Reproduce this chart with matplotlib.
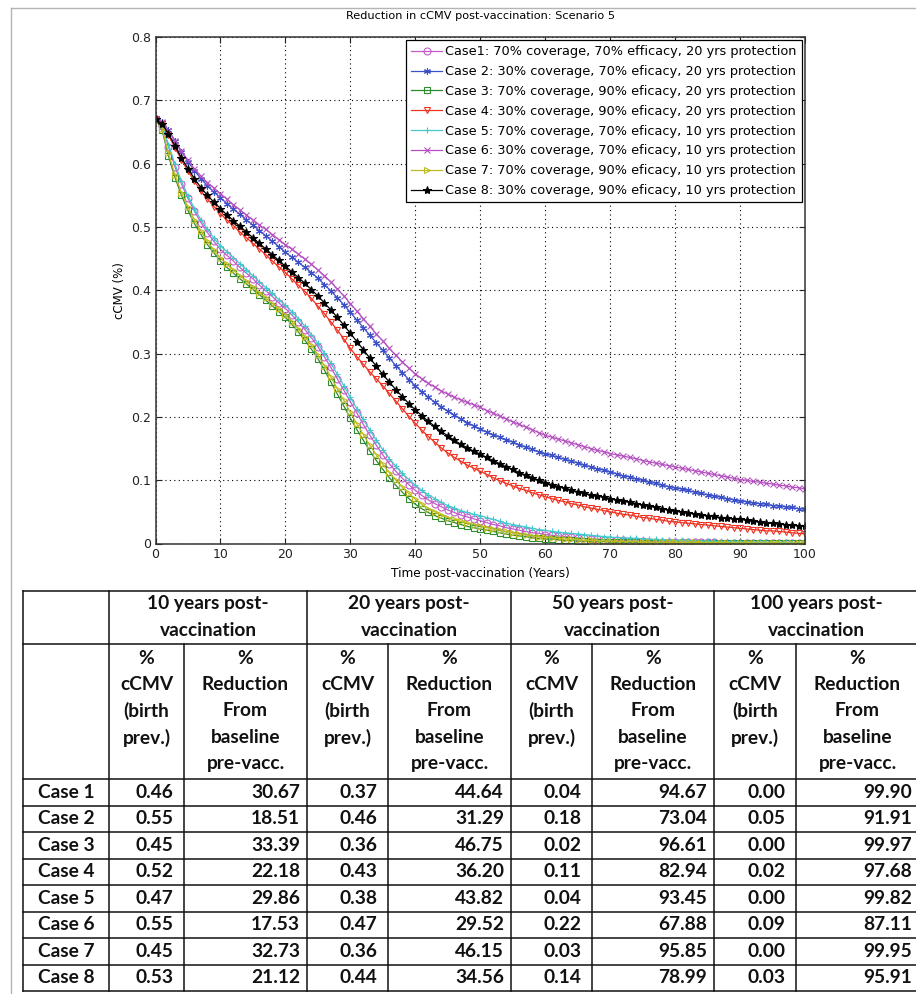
import numpy as np
import matplotlib
matplotlib.use("Agg")
import matplotlib.pyplot as plt

# ---- chart data (cCMV birth prevalence, %) ----
years = np.arange(0, 101)

case1 = [0.670, 0.660, 0.627, 0.595, 0.568, 0.545, 0.525, 0.507, 0.491, 0.477,
         0.4645, 0.455, 0.446, 0.436, 0.427, 0.418, 0.408, 0.399, 0.390, 0.380,
         0.371, 0.361, 0.350, 0.338, 0.325, 0.311, 0.295, 0.278, 0.260, 0.242,
         0.224, 0.206, 0.188, 0.171, 0.155, 0.140, 0.126, 0.114, 0.103, 0.093,
         0.084, 0.076, 0.069, 0.063, 0.058, 0.053, 0.049, 0.045, 0.042, 0.039,
         0.036, 0.033, 0.030, 0.028, 0.025, 0.023, 0.021, 0.019, 0.017, 0.016,
         0.014, 0.013, 0.012, 0.011, 0.010, 0.009, 0.008, 0.007, 0.007, 0.006,
         0.006, 0.005, 0.005, 0.004, 0.004, 0.004, 0.003, 0.003, 0.003, 0.003,
         0.0025, 0.0024, 0.0022, 0.0021, 0.0019, 0.0018, 0.0017, 0.0015, 0.0014, 0.0013,
         0.0012, 0.0012, 0.0011, 0.0010, 0.0010, 0.0009, 0.0009, 0.0008, 0.0008, 0.0007,
         0.0007]

case2 = [0.670, 0.666, 0.653, 0.636, 0.619, 0.603, 0.589, 0.576, 0.565, 0.555,
         0.546, 0.537, 0.528, 0.520, 0.511, 0.503, 0.494, 0.486, 0.477, 0.469,
         0.460, 0.452, 0.444, 0.436, 0.428, 0.419, 0.409, 0.399, 0.388, 0.377,
         0.365, 0.353, 0.341, 0.329, 0.317, 0.305, 0.293, 0.281, 0.270, 0.259,
         0.249, 0.240, 0.231, 0.223, 0.216, 0.209, 0.203, 0.197, 0.191, 0.186,
         0.181, 0.176, 0.172, 0.168, 0.164, 0.160, 0.156, 0.152, 0.149, 0.145,
         0.142, 0.139, 0.136, 0.133, 0.130, 0.127, 0.124, 0.121, 0.118, 0.116,
         0.113, 0.110, 0.107, 0.105, 0.102, 0.100, 0.097, 0.095, 0.092, 0.090,
         0.088, 0.086, 0.084, 0.081, 0.079, 0.077, 0.075, 0.073, 0.071, 0.069,
         0.067, 0.066, 0.064, 0.063, 0.062, 0.060, 0.059, 0.058, 0.057, 0.055,
         0.054]

case3 = [0.670, 0.653, 0.612, 0.578, 0.550, 0.526, 0.505, 0.488, 0.472, 0.459,
         0.446, 0.436, 0.427, 0.418, 0.410, 0.401, 0.393, 0.384, 0.375, 0.366,
         0.357, 0.346, 0.334, 0.321, 0.307, 0.292, 0.274, 0.255, 0.236, 0.217,
         0.198, 0.180, 0.163, 0.146, 0.131, 0.117, 0.104, 0.092, 0.081, 0.071,
         0.062, 0.055, 0.049, 0.044, 0.040, 0.036, 0.033, 0.030, 0.027, 0.025,
         0.023, 0.021, 0.019, 0.017, 0.015, 0.013, 0.012, 0.011, 0.009, 0.008,
         0.007, 0.007, 0.006, 0.005, 0.005, 0.004, 0.004, 0.003, 0.003, 0.003,
         0.002, 0.002, 0.002, 0.002, 0.002, 0.0015, 0.0014, 0.0013, 0.0012, 0.0011,
         0.0010, 0.0010, 0.0009, 0.0009, 0.0008, 0.0008, 0.0007, 0.0007, 0.0006, 0.0006,
         0.0005, 0.0005, 0.0005, 0.0004, 0.0004, 0.0004, 0.0003, 0.0003, 0.0003, 0.0002,
         0.0002]

case4 = [0.670, 0.662, 0.645, 0.625, 0.606, 0.588, 0.572, 0.557, 0.544, 0.532,
         0.521, 0.511, 0.502, 0.492, 0.483, 0.474, 0.465, 0.456, 0.446, 0.437,
         0.428, 0.418, 0.408, 0.398, 0.387, 0.375, 0.363, 0.350, 0.337, 0.323,
         0.308, 0.295, 0.283, 0.271, 0.260, 0.249, 0.237, 0.225, 0.213, 0.201,
         0.190, 0.179, 0.169, 0.160, 0.151, 0.143, 0.136, 0.130, 0.124, 0.119,
         0.114, 0.109, 0.104, 0.099, 0.095, 0.091, 0.087, 0.084, 0.080, 0.077,
         0.074, 0.071, 0.068, 0.066, 0.063, 0.061, 0.058, 0.056, 0.054, 0.052,
         0.050, 0.048, 0.046, 0.045, 0.043, 0.041, 0.040, 0.038, 0.037, 0.035,
         0.034, 0.033, 0.032, 0.031, 0.030, 0.029, 0.028, 0.027, 0.026, 0.025,
         0.024, 0.023, 0.022, 0.021, 0.020, 0.020, 0.019, 0.018, 0.017, 0.016,
         0.0155]

case5 = [0.670, 0.661, 0.630, 0.599, 0.572, 0.549, 0.529, 0.511, 0.496, 0.482,
         0.470, 0.461, 0.451, 0.442, 0.432, 0.423, 0.413, 0.404, 0.395, 0.385,
         0.376, 0.366, 0.355, 0.343, 0.330, 0.316, 0.301, 0.285, 0.267, 0.249,
         0.231, 0.213, 0.196, 0.179, 0.163, 0.148, 0.134, 0.122, 0.111, 0.101,
         0.092, 0.084, 0.077, 0.071, 0.065, 0.060, 0.056, 0.052, 0.049, 0.046,
         0.044, 0.041, 0.038, 0.035, 0.032, 0.030, 0.028, 0.026, 0.024, 0.022,
         0.021, 0.019, 0.018, 0.017, 0.016, 0.015, 0.014, 0.013, 0.012, 0.011,
         0.010, 0.0095, 0.009, 0.0085, 0.008, 0.0075, 0.007, 0.0065, 0.006, 0.0057,
         0.0054, 0.0050, 0.0047, 0.0044, 0.0041, 0.0038, 0.0036, 0.0034, 0.0032, 0.0030,
         0.0028, 0.0026, 0.0024, 0.0022, 0.0021, 0.0019, 0.0017, 0.0016, 0.0015, 0.0013,
         0.0012]

case6 = [0.670, 0.665, 0.652, 0.636, 0.620, 0.605, 0.592, 0.580, 0.570, 0.561,
         0.5525, 0.544, 0.535, 0.527, 0.519, 0.511, 0.503, 0.496, 0.488, 0.480,
         0.472, 0.465, 0.457, 0.449, 0.441, 0.432, 0.423, 0.413, 0.402, 0.391,
         0.379, 0.367, 0.355, 0.343, 0.331, 0.320, 0.308, 0.297, 0.287, 0.277,
         0.268, 0.260, 0.253, 0.247, 0.241, 0.236, 0.231, 0.227, 0.223, 0.219,
         0.215, 0.210, 0.206, 0.201, 0.197, 0.192, 0.188, 0.184, 0.180, 0.175,
         0.171, 0.168, 0.165, 0.162, 0.159, 0.156, 0.153, 0.150, 0.147, 0.145,
         0.142, 0.140, 0.138, 0.136, 0.134, 0.131, 0.129, 0.127, 0.125, 0.123,
         0.121, 0.119, 0.117, 0.115, 0.113, 0.111, 0.109, 0.107, 0.105, 0.103,
         0.101, 0.100, 0.098, 0.097, 0.095, 0.094, 0.092, 0.091, 0.089, 0.088,
         0.086]

case7 = [0.670, 0.655, 0.616, 0.582, 0.554, 0.531, 0.511, 0.493, 0.477, 0.463,
         0.451, 0.441, 0.432, 0.423, 0.414, 0.405, 0.396, 0.387, 0.379, 0.370,
         0.361, 0.350, 0.339, 0.326, 0.313, 0.298, 0.281, 0.263, 0.244, 0.226,
         0.207, 0.189, 0.172, 0.155, 0.140, 0.125, 0.112, 0.100, 0.089, 0.079,
         0.070, 0.062, 0.055, 0.050, 0.045, 0.041, 0.038, 0.035, 0.032, 0.030,
         0.028, 0.025, 0.023, 0.021, 0.019, 0.017, 0.015, 0.014, 0.012, 0.011,
         0.010, 0.009, 0.008, 0.007, 0.007, 0.006, 0.005, 0.005, 0.004, 0.004,
         0.004, 0.003, 0.003, 0.003, 0.003, 0.002, 0.002, 0.002, 0.002, 0.002,
         0.002, 0.0018, 0.0017, 0.0016, 0.0015, 0.0014, 0.0013, 0.0012, 0.0011, 0.0010,
         0.0009, 0.0008, 0.0008, 0.0007, 0.0007, 0.0006, 0.0005, 0.0005, 0.0004, 0.0004,
         0.0003]

case8 = [0.670, 0.663, 0.647, 0.628, 0.609, 0.592, 0.576, 0.562, 0.550, 0.539,
         0.529, 0.519, 0.510, 0.501, 0.492, 0.483, 0.474, 0.465, 0.456, 0.447,
         0.438, 0.429, 0.420, 0.411, 0.401, 0.391, 0.380, 0.369, 0.357, 0.345,
         0.332, 0.319, 0.306, 0.293, 0.280, 0.267, 0.255, 0.243, 0.232, 0.221,
         0.211, 0.202, 0.193, 0.185, 0.177, 0.170, 0.163, 0.157, 0.151, 0.146,
         0.141, 0.136, 0.131, 0.126, 0.121, 0.117, 0.112, 0.108, 0.104, 0.100,
         0.096, 0.093, 0.090, 0.087, 0.084, 0.082, 0.079, 0.077, 0.075, 0.073,
         0.071, 0.069, 0.067, 0.065, 0.063, 0.061, 0.059, 0.057, 0.055, 0.053,
         0.051, 0.050, 0.048, 0.047, 0.045, 0.044, 0.043, 0.041, 0.040, 0.039,
         0.038, 0.037, 0.035, 0.034, 0.033, 0.032, 0.031, 0.030, 0.029, 0.028,
         0.027]

legend_labels = [
    "Case1: 70% coverage, 70% efficacy, 20 yrs protection",
    "Case 2: 30% coverage, 70% eficacy, 20 yrs protection",
    "Case 3: 70% coverage, 90% eficacy, 20 yrs protection",
    "Case 4: 30% coverage, 90% eficacy, 20 yrs protection",
    "Case 5: 70% coverage, 70% eficacy, 10 yrs protection",
    "Case 6: 30% coverage, 70% eficacy, 10 yrs protection",
    "Case 7: 70% coverage, 90% eficacy, 10 yrs protection",
    "Case 8: 30% coverage, 90% eficacy, 10 yrs protection",
]

# ---- table data ----
period_labels = ["10 years post-\nvaccination", "20 years post-\nvaccination",
                 "50 years post-\nvaccination", "100 years post-\nvaccination"]
case_names = ["Case 1", "Case 2", "Case 3", "Case 4", "Case 5", "Case 6", "Case 7", "Case 8"]
cmv_10 = ["0.46", "0.55", "0.45", "0.52", "0.47", "0.55", "0.45", "0.53"]
red_10 = ["30.67", "18.51", "33.39", "22.18", "29.86", "17.53", "32.73", "21.12"]
cmv_20 = ["0.37", "0.46", "0.36", "0.43", "0.38", "0.47", "0.36", "0.44"]
red_20 = ["44.64", "31.29", "46.75", "36.20", "43.82", "29.52", "46.15", "34.56"]
cmv_50 = ["0.04", "0.18", "0.02", "0.11", "0.04", "0.22", "0.03", "0.14"]
red_50 = ["94.67", "73.04", "96.61", "82.94", "93.45", "67.88", "95.85", "78.99"]
cmv_100 = ["0.00", "0.05", "0.00", "0.02", "0.00", "0.09", "0.00", "0.03"]
red_100 = ["99.90", "91.91", "99.97", "97.68", "99.82", "87.11", "99.95", "95.91"]

series = [case1, case2, case3, case4, case5, case6, case7, case8]
colors = ["#c45ac8", "#3c50c8", "#2e8b2e", "#ee3322", "#44c8cc", "#b450c0", "#bcbc22", "#000000"]
markers = ["o", (6, 2, 0), "s", "v", "+", "x", ">", "*"]

W, H = 916, 994
fig = plt.figure(figsize=(W / 100, H / 100), dpi=100)
fig.patch.set_facecolor("white")

# full-figure layer for frame and table (pixel coordinates)
tab = fig.add_axes([0, 0, 1, 1])
tab.set_xlim(0, W)
tab.set_ylim(H, 0)
tab.axis("off")
tab.plot([11, W], [8, 8], color="#b4b4b4", lw=1.0)
tab.plot([11, 11], [8, H], color="#b4b4b4", lw=1.0)

# ---- line chart ----
left, right, top, bottom = 155.5, 805, 37, 543.5
ax = fig.add_axes([left / W, 1 - bottom / H, (right - left) / W, (bottom - top) / H])
for vals, c, m, lab in zip(series, colors, markers, legend_labels):
    filled = m == "*"
    ax.plot(years, vals, color=c, lw=0.9, marker=m, markersize=5 if m != "*" else 6,
            markeredgewidth=0.8, markerfacecolor=c if filled else "none", label=lab)

ax.set_xlim(0, 100)
ax.set_ylim(0, 0.8)
ax.set_xticks(np.arange(0, 101, 10))
ax.set_yticks(np.arange(0, 0.81, 0.1))
ax.set_yticklabels(["0", "0.1", "0.2", "0.3", "0.4", "0.5", "0.6", "0.7", "0.8"])
ax.grid(True, color="black", linestyle=(0, (1, 3)), lw=0.8)
ax.tick_params(direction="in", top=True, right=True, length=4, labelsize=9, colors="#222222")
for s in ax.spines.values():
    s.set_linewidth(1.1)
    s.set_color("#333333")
ax.set_title("Reduction in cCMV post-vaccination: Scenario 5", fontsize=8.1, pad=13)
ax.set_xlabel("Time post-vaccination (Years)", fontsize=8.7, labelpad=4)
ax.set_ylabel("cCMV (%)", fontsize=8.5, labelpad=3)
leg = ax.legend(loc="upper right", bbox_to_anchor=(0.9954, 0.994), borderaxespad=0,
                fontsize=9.3, fancybox=False, edgecolor="black", framealpha=1,
                handlelength=2.4, labelspacing=0.53, borderpad=0.4, handletextpad=0.25)
leg.get_frame().set_linewidth(0.9)

# ---- table ----
col_x = [23, 109, 184, 307, 388, 511, 592, 714, 796, 919]
row_top, head_div, sub_div, row_h = 591, 644, 779, 26.5
n_rows = len(case_names)
tbl_bottom = sub_div + n_rows * row_h
lc = "#111111"
for y in [row_top, head_div] + [sub_div + i * row_h for i in range(n_rows + 1)]:
    tab.plot([col_x[0], W], [y, y], color=lc, lw=1.1)
for i, x in enumerate(col_x[:-1]):
    y0 = head_div if i in (2, 4, 6, 8) else row_top
    tab.plot([x, x], [y0, tbl_bottom], color=lc, lw=1.1)

tfont = dict(family="Lato", fontweight="bold", fontsize=13.8, color="#111111")
for g, lab in enumerate(period_labels):
    cx = (col_x[1 + 2 * g] + col_x[3 + 2 * g]) / 2
    tab.text(cx, 604, lab.split("\n")[0], ha="center", va="center", **tfont)
    tab.text(cx, 631, lab.split("\n")[1], ha="center", va="center", **tfont)
    nx = (col_x[1 + 2 * g] + col_x[2 + 2 * g]) / 2
    wx = (col_x[2 + 2 * g] + col_x[3 + 2 * g]) / 2
    for k, t in enumerate(["%", "cCMV", "(birth", "prev.)"]):
        tab.text(nx, 658 + 26.5 * k, t, ha="center", va="center", **tfont)
    for k, t in enumerate(["%", "Reduction", "From", "baseline", "pre-vacc."]):
        tab.text(wx, 658 + 26.5 * k, t, ha="center", va="center", **tfont)

cols = [cmv_10, red_10, cmv_20, red_20, cmv_50, red_50, cmv_100, red_100]
for r in range(n_rows):
    cy = sub_div + row_h * (r + 0.5)
    tab.text((col_x[0] + col_x[1]) / 2, cy, case_names[r], ha="center", va="center", **tfont)
    for j, col in enumerate(cols):
        pad = 11 if j % 2 == 0 else 7
        tab.text(col_x[j + 2] - pad, cy, col[r], ha="right", va="center", **tfont)

fig.savefig("out.png", dpi=100)
